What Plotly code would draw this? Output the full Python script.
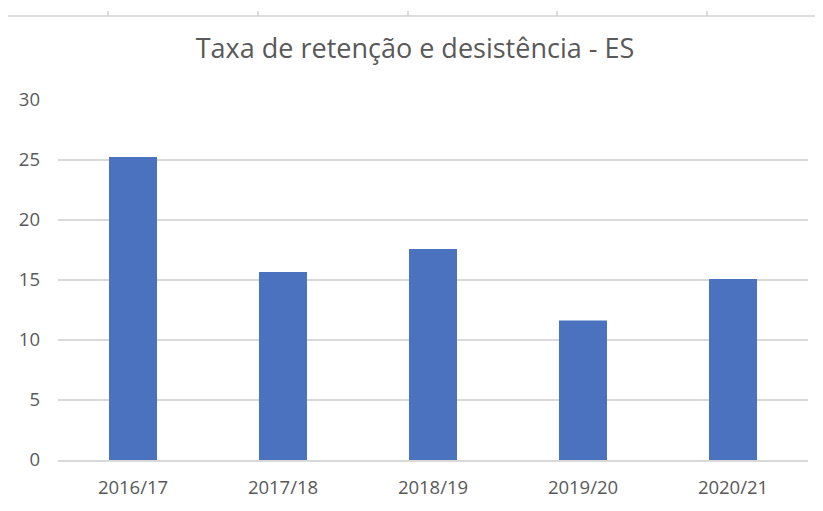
import plotly.graph_objects as go

categories = ["2016/17", "2017/18", "2018/19", "2019/20", "2020/21"]
values = [25.25, 15.67, 17.58, 11.62, 15.08]
y_ticks = [0, 5, 10, 15, 20, 25, 30]
title_text = "Taxa de retenção e desistência - ES"

# page body adds an 8px offset; compensate
OFF = 8
W, H = 823 - OFF, 511 - OFF
L, T, R, B = 58 - OFF, 100 - OFF, 15, 51
PW, PH = W - L - R, H - T - B

fig = go.Figure(go.Bar(x=categories, y=values, marker=dict(color="#4A72BF", line=dict(width=0))))

font_family = "'Open Sans', sans-serif"
fig.update_layout(
    width=W, height=H,
    margin=dict(l=L, r=R, t=T, b=B),
    paper_bgcolor="white", plot_bgcolor="white",
    bargap=0.68,
    showlegend=False,
    title=dict(text=title_text, x=(415 - OFF) / W, xref="container", xanchor="center",
               y=1 - (49 - OFF) / H, yref="container", yanchor="middle",
               font=dict(family=font_family, size=27, color="#595959")),
    xaxis=dict(showgrid=False, showline=True, linecolor="#d9d9d9", linewidth=2,
               ticks="", tickfont=dict(family=font_family, size=18.5, color="#595959"),
               ticklabelstandoff=10),
    yaxis=dict(range=[0, 30], tickvals=y_ticks, showgrid=True, gridcolor="#d9d9d9", gridwidth=2,
               zeroline=False, showline=False, ticks="",
               tickfont=dict(family=font_family, size=18.5, color="#595959"),
               ticklabelstandoff=17),
)

# decorative partial axis line at the very top (cropping artifact from source image)
ytop = 1 + (T - (16 - OFF)) / PH
ytick = 1 + (T - (11 - OFF)) / PH
shapes = [dict(type="line", xref="paper", yref="paper",
               x0=(8 - 58) / PW, x1=(823 - 58) / PW, y0=ytop, y1=ytop,
               line=dict(color="#dcdcdc", width=2))]
for px in [108, 258, 408, 557, 707]:
    shapes.append(dict(type="line", xref="paper", yref="paper",
                       x0=(px - 58) / PW, x1=(px - 58) / PW, y0=ytop, y1=ytick,
                       line=dict(color="#d0d0d0", width=1.5)))
fig.update_layout(shapes=shapes)

fig.write_html("out.html")
